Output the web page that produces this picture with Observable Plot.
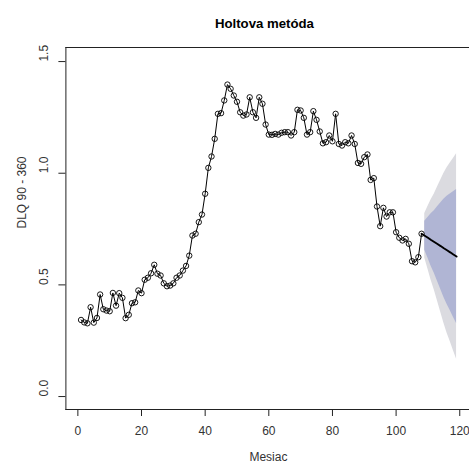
<!DOCTYPE html>
<html><head><meta charset="utf-8">
<script src="https://cdn.jsdelivr.net/npm/d3@7"></script>
<script src="https://cdn.jsdelivr.net/npm/@observablehq/plot@0.6"></script>
<style>html,body{margin:0;padding:0;background:#fff;overflow:hidden}svg{overflow:hidden}</style>
</head><body><div id="chart"></div>
<script>
// Observed series (months 1..108)
const values = [
0.343,0.332,0.328,0.400,0.331,0.352,0.457,0.391,0.385,0.382,
0.464,0.407,0.463,0.442,0.351,0.366,0.418,0.422,0.475,0.463,
0.523,0.532,0.552,0.590,0.550,0.542,0.507,0.494,0.497,0.507,
0.532,0.542,0.564,0.585,0.631,0.721,0.729,0.781,0.815,0.908,
1.024,1.075,1.154,1.266,1.269,1.326,1.397,1.378,1.348,1.320,
1.273,1.258,1.263,1.340,1.273,1.248,1.340,1.311,1.218,1.173,
1.172,1.176,1.173,1.181,1.184,1.184,1.169,1.184,1.284,1.281,
1.248,1.173,1.184,1.278,1.239,1.187,1.134,1.139,1.169,1.143,
1.266,1.131,1.124,1.139,1.134,1.169,1.131,1.046,1.042,1.072,
1.084,0.970,0.978,0.851,0.763,0.845,0.806,0.825,0.825,0.736,
0.711,0.699,0.706,0.684,0.606,0.601,0.624,0.729
];
const months = d3.range(1, values.length + 1);

// Forecast (Holt)
const fcMonths = [109,110,111,112,113,114,115,116,117,118,119];
const fcMean = [0.720,0.711,0.701,0.692,0.683,0.674,0.664,0.655,0.646,0.636,0.627];
const fcLo80 = [0.655,0.620,0.583,0.552,0.516,0.481,0.445,0.413,0.385,0.355,0.327];
const fcHi80 = [0.785,0.802,0.819,0.832,0.850,0.867,0.883,0.897,0.907,0.917,0.927];
const fcLo95 = [0.620,0.571,0.521,0.477,0.428,0.379,0.329,0.285,0.246,0.206,0.167];
const fcHi95 = [0.820,0.851,0.881,0.907,0.938,0.969,0.999,1.025,1.046,1.066,1.087];

const xTicks = [0,20,40,60,80,100,120];
const yTicks = [0,0.5,1.0,1.5];
const yTickLabels = ["0.0","0.5","1.0","1.5"];

const obs = months.map((t,i)=>({t, v: values[i]}));
const fc = fcMonths.map((t,i)=>({t, m: fcMean[i], lo80: fcLo80[i], hi80: fcHi80[i], lo95: fcLo95[i], hi95: fcHi95[i]}));
const last = obs[obs.length-1];
const fcLine = [{t: last.t, m: last.v}, ...fc];

const chart = Plot.plot({
  width: 469, height: 466,
  marginLeft: 65.4, marginRight: -5.4, marginTop: 47, marginBottom: 57,
  x: {domain: [-3.76, 124.76]},
  y: {domain: [-0.058, 1.563]},
  style: {fontFamily: "'Liberation Sans', Arial, Helvetica, sans-serif", fontSize: "12px", background: "white", color: "black", overflow: "hidden"},
  marks: [
    Plot.areaY(fc, {x: "t", y1: "lo95", y2: "hi95", fill: "#DBDBE0"}),
    Plot.areaY(fc, {x: "t", y1: "lo80", y2: "hi80", fill: "#B0B5D4"}),
    Plot.line(obs, {x: "t", y: "v", stroke: "black", strokeWidth: 1}),
    Plot.dot(obs, {x: "t", y: "v", r: 2.7, stroke: "black", strokeWidth: 0.9, fill: "none"}),
    Plot.line(fcLine, {x: "t", y: "m", stroke: "black", strokeWidth: 2}),
    Plot.frame({anchor: "left", stroke: "#222"}),
    Plot.frame({anchor: "top", stroke: "#222"}),
    Plot.frame({anchor: "bottom", stroke: "#222"}),
    Plot.axisX({ticks: xTicks, tickSize: 7, tickPadding: 10, fontSize: 12, label: null, stroke: "#222", fill: "#333"}),
    Plot.axisY({ticks: yTicks, tickSize: 7, tickFormat: () => "", label: null, stroke: "#222"}),
    Plot.text(yTicks, {y: d => d, text: (d, i) => yTickLabels[i], frameAnchor: "left", dx: -22, rotate: -90, fontSize: 12, fill: "#333"}),
    Plot.text(["DLQ 90 - 360"], {frameAnchor: "left", dx: -43.4, rotate: -90, fontSize: 12, fill: "#333"}),
    Plot.text(["Mesiac"], {frameAnchor: "bottom", dx: -2, dy: 51, fontSize: 12, fill: "#333"}),
    Plot.text(["Holtova metóda"], {frameAnchor: "top", dx: -6, dy: -29, fontSize: 13.2, fontWeight: "bold", fill: "#000"})
  ]
});
document.getElementById("chart").appendChild(chart);
</script>
</body></html>
